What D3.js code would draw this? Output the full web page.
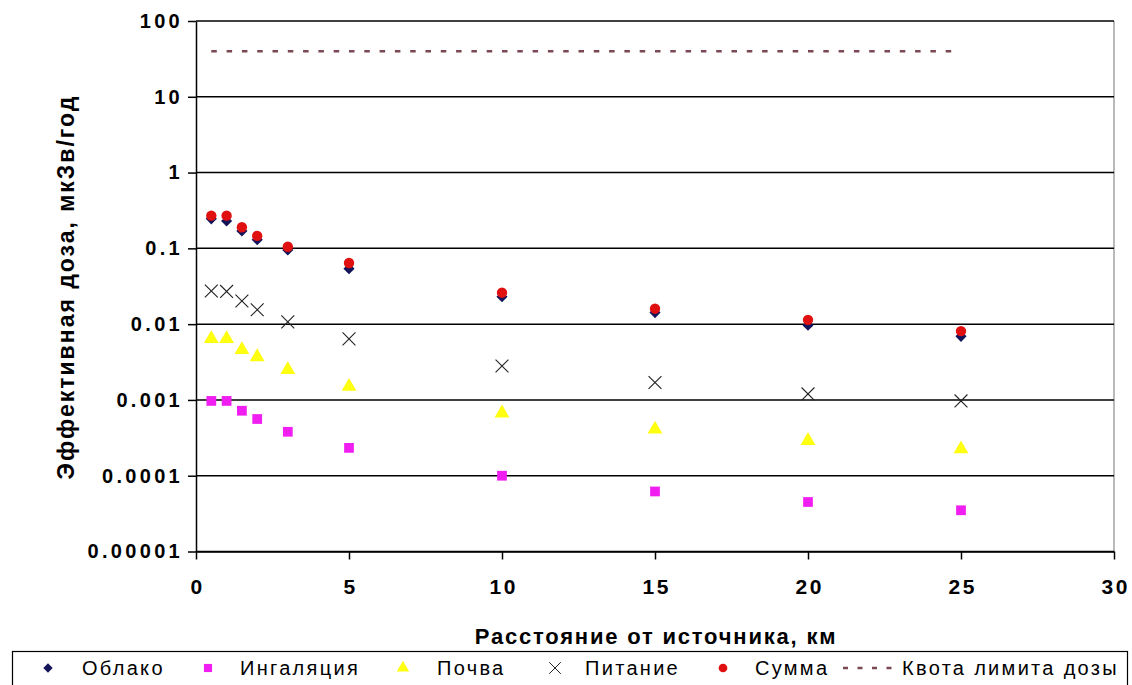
<!DOCTYPE html>
<html>
<head>
<meta charset="utf-8">
<script src="https://cdn.jsdelivr.net/npm/d3@7"></script>
<style>
  body { margin: 0; background: #fff; }
  svg { display: block; font-family: "Liberation Sans", Arial, sans-serif; }
</style>
</head>
<body>
<svg></svg>
<script>
// distances, km
var distances = [0.5, 1, 1.5, 2, 3, 5, 10, 15, 20, 25];

// effective dose, mkSv/year
var oblako      = [0.245, 0.23, 0.17, 0.13, 0.095, 0.054, 0.023, 0.0142, 0.0097, 0.0069];
var ingalyaciya = [0.00097, 0.00097, 0.00072, 0.00056, 0.00038, 0.000233, 0.0001, 0.000062, 0.000045, 0.000035];
var pochva      = [0.0064, 0.0064, 0.0046, 0.0037, 0.0025, 0.0015, 0.00067, 0.00041, 0.00029, 0.000225];
var pitanie     = [0.0274, 0.027, 0.0202, 0.0155, 0.0107, 0.0064, 0.0028, 0.0017, 0.0012, 0.00097];
var summa       = [0.27, 0.27, 0.19, 0.146, 0.105, 0.064, 0.026, 0.016, 0.0114, 0.0081];

// dose limit quota
var kvotaX = [0.5, 25];
var kvotaY = [40, 40];

var yTicks = [0.00001, 0.0001, 0.001, 0.01, 0.1, 1, 10, 100];
var yTickLabels = ["0.00001", "0.0001", "0.001", "0.01", "0.1", "1", "10", "100"];
var xTicks = [0, 5, 10, 15, 20, 25, 30];

var seriesNames = ["Облако", "Ингаляция", "Почва", "Питание", "Сумма"];
var quotaName = "Квота лимита дозы";

var screen = { width: 1132, height: 685 };
var svg = d3.select('svg')
            .attr('width', screen.width)
            .attr('height', screen.height);

var plot = { left: 196, right: 1114, top: 21, bottom: 551.5 };

var xscale = d3.scaleLinear()
               .domain([0, 30])
               .range([plot.left, plot.right]);
var yscale = d3.scaleLog()
               .domain([0.00001, 100])
               .range([plot.bottom, plot.top]);

// right border of the plot area
svg.append('line')
   .attr('x1', plot.right).attr('x2', plot.right)
   .attr('y1', plot.top).attr('y2', plot.bottom)
   .attr('stroke', '#8c8c8c')
   .attr('stroke-width', 1.2);

// gridlines
svg.append('g')
   .selectAll('line')
   .data(yTicks)
   .enter()
   .append('line')
   .attr('x1', plot.left)
   .attr('x2', plot.right)
   .attr('y1', function(d) { return yscale(d); })
   .attr('y2', function(d) { return yscale(d); })
   .attr('stroke', '#000')
   .attr('stroke-width', 1.5);

// y axis
var yAxis = svg.append('g')
   .attr('transform', 'translate(' + plot.left + ',0)')
   .call(d3.axisLeft(yscale)
           .tickValues(yTicks)
           .tickFormat(function(d, i) { return yTickLabels[i]; })
           .tickSize(8)
           .tickSizeOuter(0)
           .tickPadding(5));
yAxis.selectAll('text')
     .attr('font-size', 20)
     .attr('font-weight', 'bold')
     .attr('letter-spacing', 3.3)
     .attr('fill', '#000')
     .attr('font-family', '"Liberation Sans", Arial, sans-serif');
yAxis.selectAll('line, path').attr('stroke', '#000').attr('stroke-width', 1.5);

// x axis
var xAxis = svg.append('g')
   .attr('transform', 'translate(0,' + plot.bottom + ')')
   .call(d3.axisBottom(xscale)
           .tickValues(xTicks)
           .tickSize(8)
           .tickSizeOuter(0)
           .tickPadding(20));
xAxis.selectAll('text')
     .attr('font-size', 21)
     .attr('font-weight', 'bold')
     .attr('letter-spacing', 2.5)
     .attr('dx', 1.2)
     .attr('fill', '#000')
     .attr('font-family', '"Liberation Sans", Arial, sans-serif');
xAxis.selectAll('line, path').attr('stroke', '#000').attr('stroke-width', 1.5);

// axis titles
svg.append('text')
   .attr('x', 656)
   .attr('y', 644)
   .attr('text-anchor', 'middle')
   .attr('font-size', 22)
   .attr('font-weight', 'bold')
   .attr('letter-spacing', 1.8)
   .text('Расстояние от источника, км');

svg.append('text')
   .attr('transform', 'translate(74,287) rotate(-90)')
   .attr('text-anchor', 'middle')
   .attr('font-size', 23)
   .attr('font-weight', 'bold')
   .attr('letter-spacing', 2)
   .text('Эффективная доза, мкЗв/год');

// quota line
var quotaLine = d3.line()
   .x(function(d) { return xscale(d[0]); })
   .y(function(d) { return yscale(d[1]); });
svg.append('path')
   .datum(d3.zip(kvotaX, kvotaY))
   .attr('d', quotaLine)
   .attr('fill', 'none')
   .attr('stroke', '#7b4853')
   .attr('stroke-width', 2.5)
   .attr('stroke-dasharray', '5.5,9.8');

// series styles
var styles = [
  { values: oblako, type: d3.symbolSquare, size: 62, rotate: 45, fill: '#14145a', stroke: 'none' },
  { values: ingalyaciya, type: d3.symbolSquare, size: 95, rotate: 0, fill: '#f01ef0', stroke: 'none' },
  { values: pochva, type: d3.symbolTriangle, size: 95, rotate: 0, fill: '#ffff10', stroke: 'none' },
  { values: pitanie, type: d3.symbolX, size: 110, rotate: 0, fill: 'none', stroke: '#222' },
  { values: summa, type: d3.symbolCircle, size: 85, rotate: 0, fill: '#e01010', stroke: 'none' }
];

styles.forEach(function(s)
{
  svg.append('g')
     .selectAll('path')
     .data(d3.zip(distances, s.values))
     .enter()
     .append('path')
     .attr('d', d3.symbol().type(s.type).size(s.size))
     .attr('transform', function(d)
     {
       return 'translate(' + xscale(d[0]) + ',' + yscale(d[1]) + ') rotate(' + s.rotate + ')';
     })
     .attr('fill', s.fill)
     .attr('stroke', s.stroke)
     .attr('stroke-width', 1.1);
});

// legend
var legend = svg.append('g');
legend.append('rect')
      .attr('x', 12.5).attr('y', 651.5)
      .attr('width', 1115).attr('height', 40)
      .attr('fill', '#fff')
      .attr('stroke', '#000')
      .attr('stroke-width', 1.2);

var legendY = 668;
var markerX = [48, 208, 403, 555, 723];
var textX = [82, 240, 437, 585, 755];

styles.forEach(function(s, i)
{
  var sz = s.type === d3.symbolX ? 90 : s.size * 0.7;
  legend.append('path')
        .attr('d', d3.symbol().type(s.type).size(sz))
        .attr('transform', 'translate(' + markerX[i] + ',' + legendY + ') rotate(' + s.rotate + ')')
        .attr('fill', s.fill)
        .attr('stroke', s.stroke)
        .attr('stroke-width', 1);
  legend.append('text')
        .attr('x', textX[i])
        .attr('y', legendY + 7)
        .attr('font-size', 20)
        .attr('letter-spacing', 2.3)
        .text(seriesNames[i]);
});

legend.append('line')
      .attr('x1', 843).attr('x2', 897)
      .attr('y1', legendY).attr('y2', legendY)
      .attr('stroke', '#7b4853')
      .attr('stroke-width', 2.5)
      .attr('stroke-dasharray', '5,9.5');
legend.append('text')
      .attr('x', 902)
      .attr('y', legendY + 7)
      .attr('font-size', 20)
      .attr('letter-spacing', 2.3)
      .text(quotaName);
</script>
</body>
</html>
